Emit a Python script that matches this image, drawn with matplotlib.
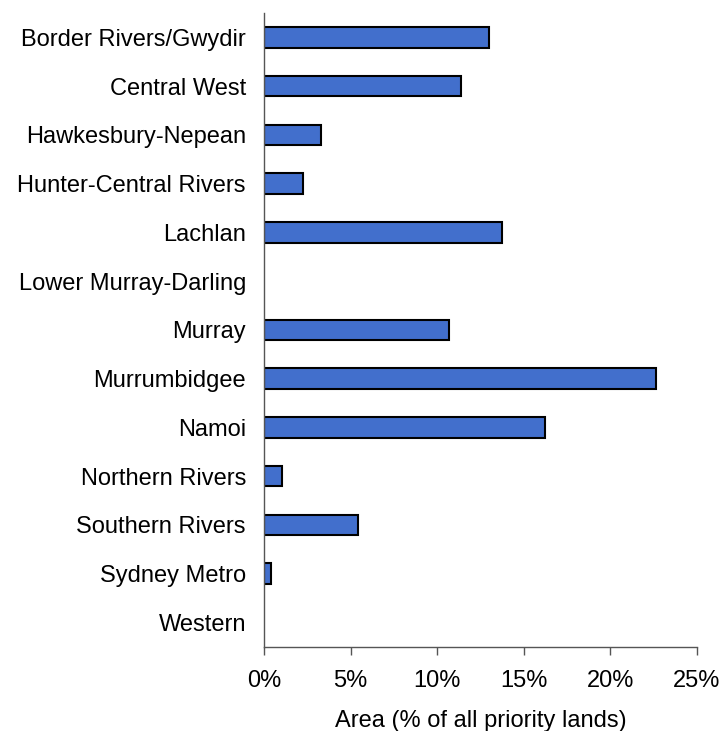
import matplotlib.pyplot as plt
from matplotlib.ticker import FuncFormatter

regions = ["Border Rivers/Gwydir", "Central West", "Hawkesbury-Nepean",
           "Hunter-Central Rivers", "Lachlan", "Lower Murray-Darling",
           "Murray", "Murrumbidgee", "Namoi", "Northern Rivers",
           "Southern Rivers", "Sydney Metro", "Western"]
area_pct = [13.0, 11.4, 3.3, 2.25, 13.75, 0.0, 10.7, 22.65, 16.2, 1.05, 5.4, 0.4, 0.0]

plt.rcParams['font.family'] = ['Liberation Sans', 'DejaVu Sans']

fig = plt.figure(figsize=(7.21, 7.31), dpi=100)
ax = fig.add_axes([0.3662, 0.1153, 0.6005, 0.8669])

ypos = list(range(len(regions)))
# no outline on empty bars, so they don't draw over the axis line
lw = [1.5 if v > 0 else 0 for v in area_pct]
ax.barh(ypos, area_pct, height=0.42, color='#426FCC', edgecolor='black', linewidth=lw)

ax.set_ylim(len(regions) - 0.5, -0.5)
ax.set_xlim(0, 25)
ax.set_xticks([0, 5, 10, 15, 20, 25])
ax.xaxis.set_major_formatter(FuncFormatter(lambda v, p: f"{v:.0f}%"))
ax.set_yticks(ypos)
ax.set_yticklabels(regions)

for s in ['top', 'right']:
    ax.spines[s].set_visible(False)
for s in ['left', 'bottom']:
    ax.spines[s].set_color('#555555')
    ax.spines[s].set_linewidth(1.0)

ax.tick_params(axis='y', length=0, pad=13, labelsize=17)
ax.tick_params(axis='x', length=6, color='#555555', width=1.0, pad=11, labelsize=17)
ax.set_xlabel("Area (% of all priority lands)", fontsize=17, labelpad=13)

fig.savefig("out.png", dpi=100)
